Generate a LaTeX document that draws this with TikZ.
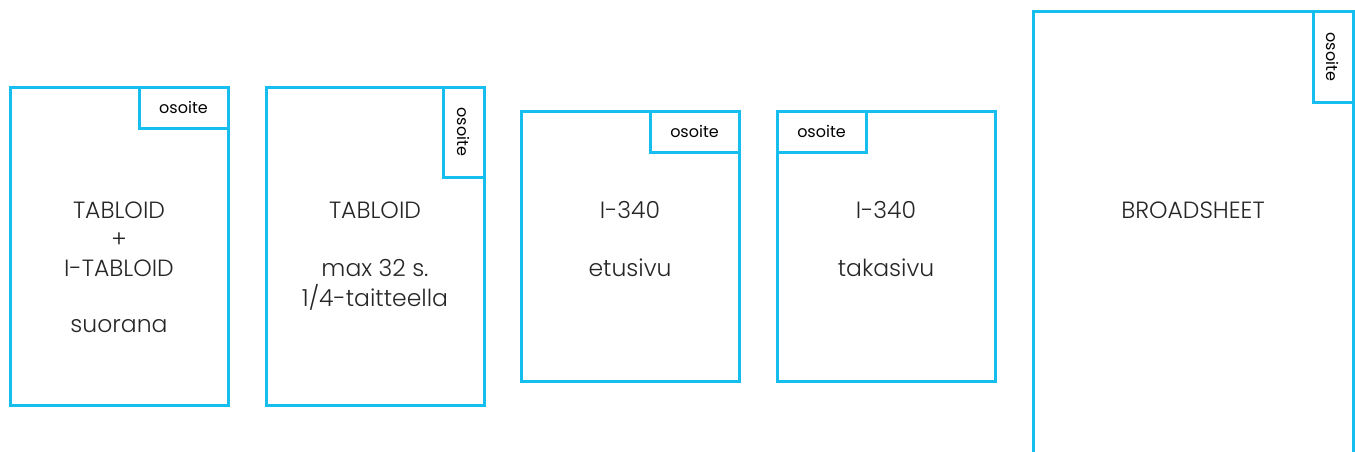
\documentclass[tikz,border=0pt]{standalone}
\usepackage{fontspec}
\setmainfont{Poppins}[UprightFont={* Light}]
\newfontfamily\addrfont{Poppins}
\definecolor{frame}{RGB}{22,190,240}
\begin{document}
\begin{tikzpicture}[x=1pt,y=-1pt,
  page/.style={draw=frame,line width=3pt},
  addr/.style={draw=frame,line width=3pt},
  lbl/.style={font=\fontsize{23.5}{29}\selectfont,align=center,text=black!85},
  small/.style={font=\addrfont\fontsize{16}{18}\selectfont,text=black}]
\useasboundingbox (0,0) rectangle (1355,452);
% box 1
\draw[page] (10,88) rectangle (228,405);
\draw[addr] (139,88) rectangle (228,128);
\node[small] (a1) at (183.5,107) {osoite};
\node[lbl] (t1) at (119,210) {TABLOID};
\node[lbl] (t1b) at (119,240) {+};
\node[lbl] (t1c) at (119,268) {I-TABLOID};
\node[lbl] (t1d) at (119,326) {suorana};
% box 2
\draw[page] (266,88) rectangle (484,405);
\draw[addr] (443,88) rectangle (484,177);
\node[small,rotate=-90] (a2) at (463.5,132) {osoite};
\node[lbl] (t2) at (375,210) {TABLOID};
\node[lbl] (t2b) at (375,268) {max 32 s.};
\node[lbl] (t2c) at (375,297) {1/4-taitteella};
% box 3
\draw[page] (521,111) rectangle (739,381);
\draw[addr] (650,111) rectangle (739,152);
\node[small] (a3) at (694.5,131) {osoite};
\node[lbl] (t3) at (630,210) {I-340};
\node[lbl] (t3b) at (630,268) {etusivu};
% box 4
\draw[page] (777,111) rectangle (995,381);
\draw[addr] (777,111) rectangle (866,152);
\node[small] (a4) at (821.5,131) {osoite};
\node[lbl] (t4) at (886,210) {I-340};
\node[lbl] (t4b) at (886,268) {takasivu};
% box 5
\draw[page] (1033,470) -- (1033,12) -- (1353,12) -- (1353,470);
\draw[addr] (1313,12) rectangle (1353,102);
\node[small,rotate=-90] (a5) at (1333,57) {osoite};
\node[lbl] (t5) at (1193,210) {BROADSHEET};
\end{tikzpicture}
\end{document}
